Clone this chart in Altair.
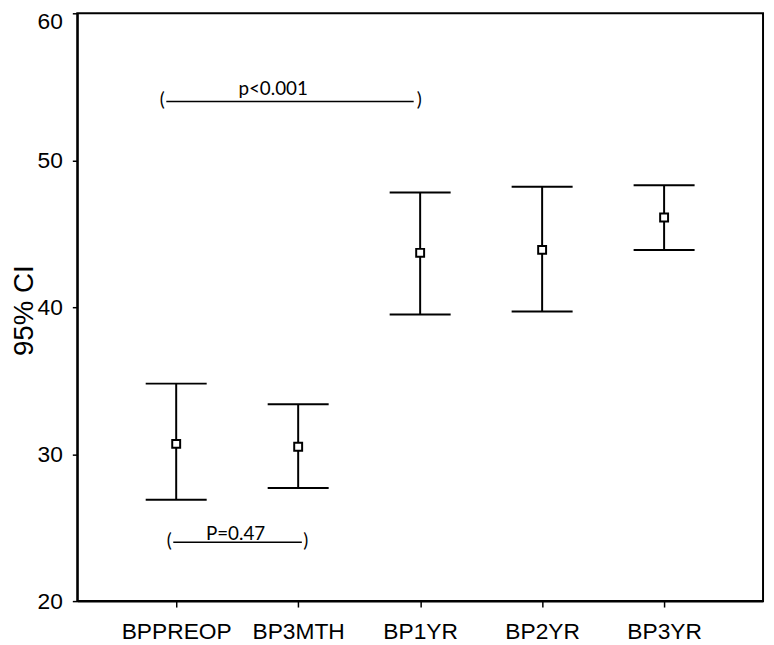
import json
import altair as alt
import pandas as pd

# ---- data ----
categories = ["BPPREOP", "BP3MTH", "BP1YR", "BP2YR", "BP3YR"]
means = [30.7, 30.5, 43.7, 43.9, 46.1]
lower = [26.9, 27.7, 39.5, 39.7, 43.9]
upper = [34.8, 33.4, 47.8, 48.2, 48.3]
y_ticks = [20, 30, 40, 50, 60]

# significance annotations (x in category-index units, y in data units)
ann_labels = ["p<0.001", "P=0.47"]
ann_text_x = [0.795, 0.487]
ann_text_y = [54.45, 24.13]
ann_line_y = [54.0, 24.0]
ann_line_x1 = [-0.081, -0.024]
ann_line_x2 = [1.947, 1.03]
paren_chars = ["(", ")", "(", ")"]
paren_x = [-0.114, 1.992, -0.057, 1.063]
paren_y = [54.0, 54.0, 24.0, 24.0]

df = pd.DataFrame({"idx": list(range(len(categories))), "cat": categories,
                   "mean": means, "lo": lower, "hi": upper})
ann_text = pd.DataFrame({"label": ann_labels, "x": ann_text_x, "y": ann_text_y})
ann_lines = pd.DataFrame({"x1": ann_line_x1, "x2": ann_line_x2, "y": ann_line_y})
parens = pd.DataFrame({"ch": paren_chars, "x": paren_x, "y": paren_y})

FONT = "Liberation Sans"
label_expr = json.dumps(categories) + "[datum.value]"

x_scale = alt.Scale(domain=[-0.811, 4.811], nice=False, zero=False)
y_scale = alt.Scale(domain=[20, 60], nice=False, zero=False)

x_axis = alt.Axis(values=list(range(len(categories))), labelExpr=label_expr, title=None,
                  grid=False, tickSize=6, labelPadding=14, labelFontSize=23, labelFont=FONT,
                  labelColor="black", domainColor="black", domainWidth=2,
                  tickColor="black", tickWidth=1.5, labelFlush=False)
y_axis = alt.Axis(values=y_ticks, title="95% CI", grid=False, tickSize=5,
                  labelPadding=10, labelFontSize=23, labelFont=FONT, labelColor="black",
                  labelBaseline="middle", labelFlush=False,
                  labelOffset={"condition": {"test": "datum.value == 60", "value": 8},
                               "value": 0},
                  domainColor="black", domainWidth=2, tickColor="black", tickWidth=1.5,
                  titleFont=FONT, titleFontSize=28, titleFontWeight="normal",
                  titleColor="black", titleX=-53, titleY=300, titleAngle=270,
                  titleAlign="center", titleBaseline="middle")


def X(field):
    return alt.X(field, scale=x_scale, axis=x_axis)


def Y(field):
    return alt.Y(field, scale=y_scale, axis=y_axis)


base = alt.Chart(df)

stems = base.mark_rule(color="black", strokeWidth=2).encode(
    x=X("idx:Q"), y=Y("lo:Q"), y2="hi:Q")

caps = base.transform_fold(["lo", "hi"], as_=["end", "val"]).transform_calculate(
    cx1="datum.idx - 0.25", cx2="datum.idx + 0.25"
).mark_rule(color="black", strokeWidth=2).encode(
    x=X("cx1:Q"), x2="cx2:Q", y=Y("val:Q"))

points = base.mark_point(shape="square", filled=True, fill="white", stroke="black",
                         strokeWidth=2, size=64, opacity=1).encode(
    x=X("idx:Q"), y=Y("mean:Q"))

lines = alt.Chart(ann_lines).mark_rule(color="black", strokeWidth=1.5).encode(
    x=X("x1:Q"), x2="x2:Q", y=Y("y:Q"))

texts = alt.Chart(ann_text).mark_text(font="Lato", fontSize=19, color="black",
                                      baseline="alphabetic", align="center").encode(
    x=X("x:Q"), y=Y("y:Q"), text="label:N")

par = alt.Chart(parens).mark_text(font="Lato", fontSize=19, color="black",
                                  baseline="middle", align="center", dy=-1).encode(
    x=X("x:Q"), y=Y("y:Q"), text="ch:N")

chart = alt.layer(stems, caps, points, lines, texts, par).properties(
    width=693, height=594,
    autosize=alt.AutoSizeParams(type="none"),
    padding={"left": 70, "top": 2, "right": 3, "bottom": 41},
    background="white",
).configure_view(stroke="black", strokeWidth=2)

chart.save("out.html", embed_options={"renderer": "svg", "actions": False})
